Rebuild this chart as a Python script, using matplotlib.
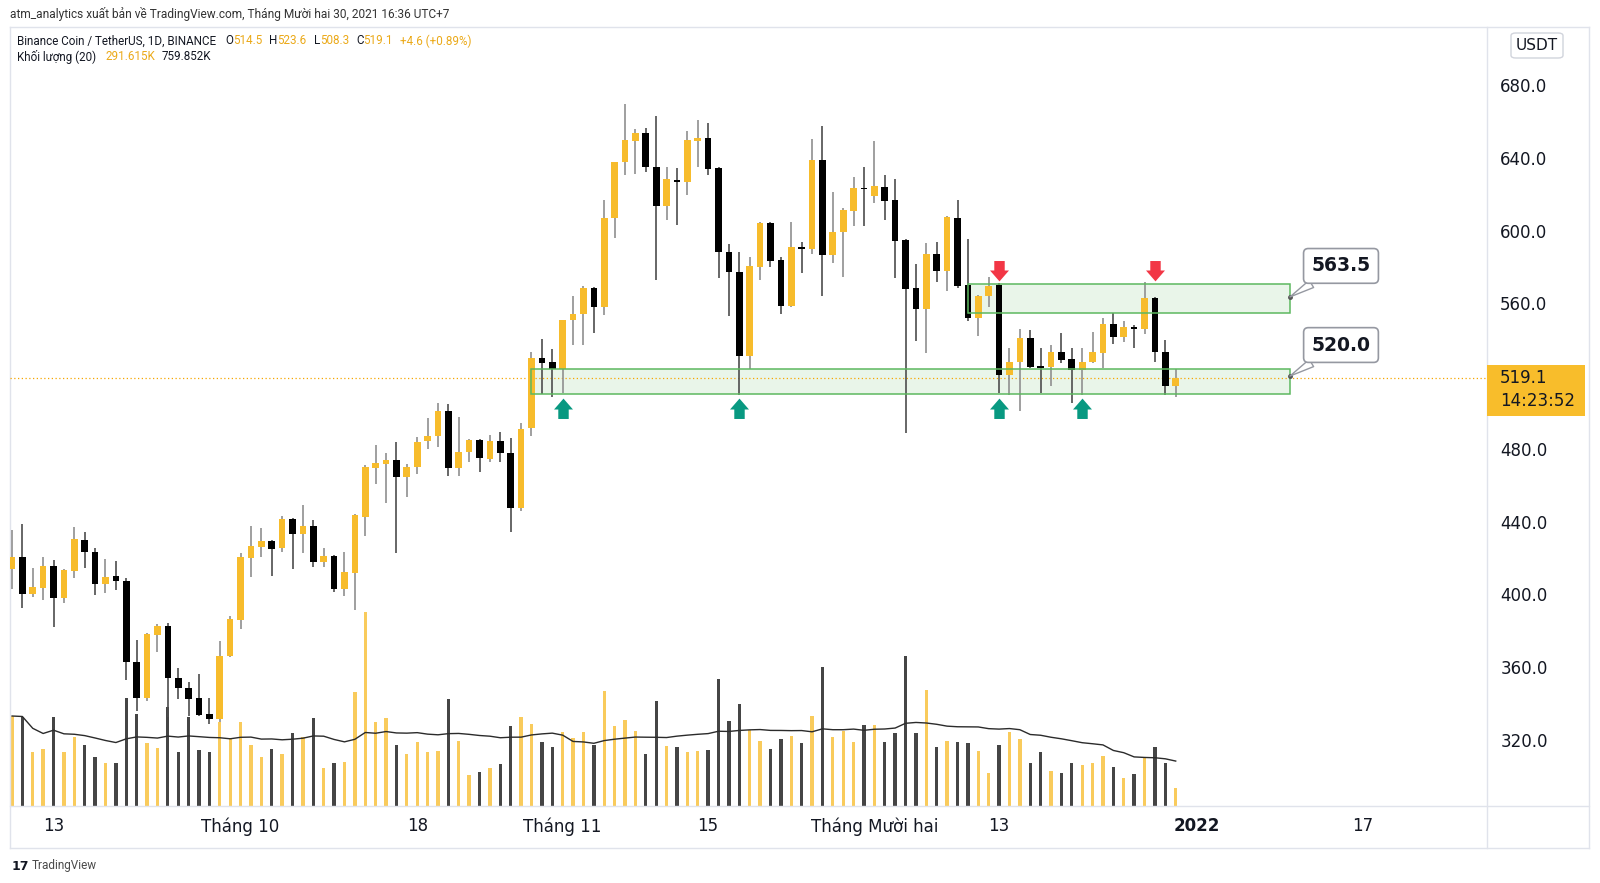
import matplotlib
matplotlib.use("Agg")
import matplotlib.pyplot as plt
import numpy as np
import pandas as pd
from matplotlib.patches import Rectangle, FancyBboxPatch
from matplotlib.lines import Line2D
from matplotlib.path import Path

plt.rcParams['font.family'] = ['DejaVu Sans']

# ---- data (BNB/USDT daily) ----
dates = pd.date_range("2021-09-09", "2021-12-30", freq="D")

opens = [413.9, 420.5, 400.2, 403.5, 415.6, 398.0, 412.8, 429.9, 423.3, 405.7,
         410.1, 407.3, 362.8, 343.0, 377.7, 382.6, 354.0, 348.5, 343.0, 334.2,
         331.5, 366.1, 385.9, 420.0, 426.0, 429.3, 425.5, 441.4, 433.2, 437.6,
         417.8, 421.1, 403.0, 411.7, 442.5, 469.4, 471.6, 473.9, 464.5, 470.0,
         484.3, 487.0, 500.8, 469.4, 478.2, 484.9, 474.4, 484.3, 477.7, 447.5,
         491.4, 529.9, 527.7, 523.9, 550.8, 554.1, 568.4, 558.0, 606.9, 637.7,
         649.2, 653.6, 634.9, 613.5, 627.8, 626.7, 649.2, 650.9, 634.4, 588.2,
         577.2, 531.0, 580.0, 604.1, 583.8, 558.6, 590.9, 589.8, 638.8, 586.5,
         599.2, 611.0, 623.3, 619.0, 624.0, 616.8, 594.8, 568.4, 556.9, 587.1,
         577.8, 606.9, 570.0, 551.9, 564.0, 570.0, 520.6, 527.7, 540.9, 525.5,
         525.0, 533.2, 529.4, 523.3, 527.7, 532.7, 548.6, 541.5, 547.0, 545.9,
         562.9, 533.2, 514.5]
highs = [435.4, 438.7, 414.5, 420.5, 418.9, 413.9, 437.0, 434.3, 425.5, 419.4,
         418.3, 409.0, 374.9, 378.8, 383.7, 384.3, 359.5, 351.8, 356.2, 343.0,
         374.4, 388.1, 422.7, 437.6, 436.5, 429.9, 443.1, 442.0, 449.1, 440.9,
         425.5, 421.6, 423.3, 444.0, 471.1, 482.1, 477.7, 483.7, 471.6, 486.5,
         496.9, 505.2, 504.6, 497.5, 485.4, 485.4, 487.6, 489.3, 486.0, 494.2,
         533.2, 540.4, 534.9, 551.0, 564.0, 569.5, 569.0, 616.8, 637.9, 669.6,
         655.8, 656.4, 662.9, 634.9, 634.4, 654.7, 660.8, 659.1, 634.9, 592.6,
         588.2, 585.5, 604.6, 604.6, 585.5, 604.7, 593.7, 650.3, 657.5, 621.2,
         612.3, 629.4, 634.9, 649.2, 630.5, 628.3, 595.3, 581.6, 593.1, 593.7,
         607.9, 616.8, 595.3, 564.3, 574.5, 571.1, 535.4, 545.9, 545.3, 535.4,
         537.1, 543.7, 535.4, 535.4, 544.2, 551.9, 554.7, 550.3, 548.1, 571.7,
         563.4, 539.8, 523.6]
lows = [403.0, 392.5, 398.6, 396.9, 382.1, 395.3, 409.0, 414.5, 399.6, 400.7,
        402.4, 352.9, 335.9, 341.4, 368.3, 332.6, 342.5, 333.1, 333.2, 328.7,
        329.8, 365.6, 381.0, 409.5, 420.5, 410.1, 423.3, 413.9, 422.7, 415.0,
        415.0, 401.3, 399.1, 391.4, 432.1, 460.7, 450.2, 422.7, 453.5, 466.1,
        479.9, 481.0, 465.0, 465.0, 472.7, 467.2, 472.7, 472.7, 434.5, 445.8,
        487.0, 510.1, 508.5, 510.7, 537.1, 537.1, 543.7, 553.6, 595.9, 630.5,
        631.1, 632.2, 572.8, 605.8, 603.0, 619.5, 634.9, 630.5, 573.9, 553.0,
        509.6, 523.9, 572.8, 580.0, 554.1, 558.0, 576.6, 587.1, 564.0, 582.1,
        574.4, 602.6, 602.6, 615.2, 605.8, 573.9, 488.7, 539.5, 532.7, 571.7,
        567.0, 568.4, 550.3, 542.2, 557.8, 510.7, 509.6, 500.8, 524.5, 510.7,
        514.5, 527.2, 505.2, 509.6, 527.0, 524.4, 537.6, 538.7, 535.4, 543.1,
        527.7, 509.6, 508.3]
closes = [420.5, 400.2, 404.1, 415.6, 398.0, 413.4, 430.4, 423.3, 405.7, 409.5,
          407.3, 362.8, 343.0, 378.2, 382.6, 354.0, 348.5, 342.5, 333.7, 331.5,
          366.1, 386.5, 420.5, 426.6, 429.3, 424.9, 441.4, 433.2, 437.6, 417.8,
          421.1, 403.0, 412.3, 443.6, 470.0, 472.2, 473.9, 464.5, 470.0, 483.7,
          487.0, 500.8, 469.4, 478.2, 484.9, 474.9, 484.3, 477.7, 447.5, 490.9,
          529.9, 527.2, 523.9, 550.8, 554.1, 568.4, 558.0, 606.9, 637.7, 649.8,
          653.6, 634.9, 613.5, 628.3, 626.7, 649.8, 650.9, 633.9, 588.2, 577.2,
          531.0, 580.5, 604.1, 583.3, 558.6, 590.9, 589.8, 638.8, 586.5, 599.2,
          611.3, 623.3, 622.8, 624.5, 616.2, 594.2, 567.8, 556.9, 587.1, 577.8,
          607.4, 569.5, 551.9, 564.0, 569.5, 520.6, 527.7, 540.9, 525.0, 524.4,
          533.2, 528.8, 523.3, 527.7, 533.2, 548.6, 541.5, 547.0, 545.9, 562.9,
          533.2, 514.5, 519.1]
# volume in thousands
volumes_k = [1476, 1460, 886, 935, 1460, 886, 1132, 1000, 804, 705,
             705, 1771, 1509, 1033, 951, 1624, 886, 1460, 918, 886,
             1378, 1115, 1378, 1000, 804, 935, 853, 1197, 1132, 1443,
             623, 705, 722, 1870, 3182, 1378, 1443, 1000, 853, 1050,
             886, 902, 1755, 1066, 508, 558, 623, 689, 1312, 1460,
             1345, 1050, 968, 1214, 1115, 1214, 1000, 1886, 1312, 1410,
             1230, 853, 1722, 984, 968, 886, 902, 918, 2083, 1394,
             1673, 1246, 1066, 935, 1099, 1148, 1033, 1476, 2280, 1132,
             1230, 1050, 1328, 1328, 1050, 1197, 2460, 1197, 1902, 968,
             1066, 1050, 1033, 902, 541, 1000, 1214, 1099, 705, 886,
             574, 541, 705, 672, 705, 820, 640, 459, 525, 787,
             968, 705, 291.615]
vol_ma_shown = 759.852

tick_dates = ["2021-09-13", "2021-10-01", "2021-10-18", "2021-11-01", "2021-11-15",
              "2021-12-01", "2021-12-13", "2022-01-01", "2022-01-17"]
tick_labels = ["13", "Tháng 10", "18", "Tháng 11", "15", "Tháng Mười hai", "13", "2022", "17"]
# 520.0 is hidden behind the last-price label
price_ticks = [320, 360, 400, 440, 480, 560, 600, 640, 680]

# support / resistance boxes: (start date, end date, low, high, callout value)
zone_upper = ("2021-12-10", "2022-01-10", 554.7, 570.6, 563.5)
zone_lower = ("2021-10-29", "2022-01-10", 509.9, 523.7, 520.0)
up_arrow_dates = ["2021-11-01", "2021-11-18", "2021-12-13", "2021-12-21"]
up_arrow_price = 501.9
down_arrow_dates = ["2021-12-13", "2021-12-28"]
down_arrow_price = 578.3

title = "atm_analytics xuất bản về TradingView.com, Tháng Mười hai 30, 2021 16:36 UTC+7"
countdown = "14:23:52"

# ---- styling ----
YELLOW = '#F7BC2C'
BLACK = '#000000'
GOLD_TXT = '#EBA918'
DARK = '#131722'
BORDER = '#E0E3EB'
W, H = 1600, 883


def fx(px):
    return px / W


def fy(py):
    return 1 - py / H


def day(d):
    return (pd.Timestamp(d) - dates[0]).days


fig = plt.figure(figsize=(W / 100, H / 100), dpi=100)
fig.patch.set_facecolor('white')

ax = fig.add_axes([fx(10), fy(806), (1487 - 10) / W, (806 - 27) / H])
ax.set_xlim(-0.19, 141.96)
ax.set_ylim(283.6, 711.9)
ax.set_facecolor('none')
ax.set_zorder(2)

ax2 = ax.twinx()
ax2.set_zorder(1)
ax2.set_ylim(0, 12776)
ax2.set_axis_off()

x = np.arange(len(dates))
o = np.array(opens)
c = np.array(closes)
up = c >= o

# volume + MA(20)
vol_col = np.where(up, '#F9CB5C', '#454545')
ax2.bar(x, volumes_k, width=0.32, color=vol_col, lw=0)
vol_ma = pd.Series(volumes_k).rolling(20, min_periods=1).mean()
ax2.plot(x, vol_ma, color='#2b2b2b', lw=1.0)

# candles
wick_col = np.where(up, '#8f8f8f', '#4d4d4d')
ax.vlines(x, lows, highs, colors=wick_col, lw=1.2, zorder=2)
ax.bar(x, np.maximum(np.abs(c - o), 0.7), bottom=np.minimum(o, c), width=0.64,
       color=np.where(up, YELLOW, BLACK), lw=0, zorder=3)

# zones
for z in (zone_upper, zone_lower):
    x0, x1 = day(z[0]), day(z[1])
    ax.add_patch(Rectangle((x0, z[2]), x1 - x0, z[3] - z[2], facecolor='#4CAF50',
                           alpha=0.12, lw=0, zorder=1))
    ax.add_patch(Rectangle((x0, z[2]), x1 - x0, z[3] - z[2], facecolor='none',
                           edgecolor='#5DB85F', lw=1.1, zorder=4))
    ax.plot(x1, z[4], 'o', ms=2.5, color='#555555', zorder=6)
    ax.annotate(f"{z[4]:.1f}", xy=(x1, z[4]), xytext=(51, 31), textcoords='offset pixels',
                ha='center', va='center', fontsize=13.5, fontweight='bold', color=DARK,
                bbox=dict(boxstyle='round,pad=0.42,rounding_size=0.25', fc='white', ec='#9598A1', lw=1.2),
                arrowprops=dict(arrowstyle='wedge,tail_width=0.45,shrink_factor=0.5', fc='white',
                                ec='#9598A1', lw=1.0, shrinkA=0, shrinkB=0),
                zorder=7)

# current price dotted line
ax.axhline(c[-1], color='#F7A600', lw=0.9, ls=(0, (1, 2)), zorder=1)

# arrows
up_path = Path([(-0.55, -1.0), (0.55, -1.0), (0.55, 0.0), (1.0, 0.0), (0.0, 1.15),
                (-1.0, 0.0), (-0.55, 0.0), (-0.55, -1.0)], closed=True)
down_path = Path([(vx, -vy) for vx, vy in up_path.vertices], closed=True)
ax.plot([day(d) for d in up_arrow_dates], [up_arrow_price] * len(up_arrow_dates),
        ls='none', marker=up_path, ms=15.7, color='#089981', mew=0, zorder=6)
ax.plot([day(d) for d in down_arrow_dates], [down_arrow_price] * len(down_arrow_dates),
        ls='none', marker=down_path, ms=15.7, color='#F23645', mew=0, zorder=6)

# axes ticks
for s in ax.spines.values():
    s.set_visible(False)
ax.yaxis.tick_right()
ax.set_yticks(price_ticks)
ax.set_yticklabels([f"{v:.1f}" for v in price_ticks])
ax.tick_params(axis='y', length=0, pad=9.5, labelsize=12, labelcolor=DARK)
for lbl in ax.get_yticklabels():
    lbl.set_horizontalalignment('left')
ax.set_xticks([day(d) for d in tick_dates])
ax.set_xticklabels(tick_labels)
ax.tick_params(axis='x', length=0, pad=8, labelsize=12, labelcolor=DARK)
for lbl in ax.get_xticklabels():
    if lbl.get_text() == "2022":
        lbl.set_fontweight('bold')

# frame lines
for (x0, y0, x1, y1) in [(10, 27, 1589, 27), (10, 848, 1589, 848), (10, 27, 10, 848),
                         (1589, 27, 1589, 848), (10, 806, 1589, 806), (1487, 27, 1487, 848)]:
    fig.add_artist(Line2D([fx(x0), fx(x1)], [fy(y0), fy(y1)], color=BORDER, lw=1.0))

# last price label on the axis
_, py = ax.transData.transform((0, c[-1]))
py = H - py
fig.add_artist(Rectangle((fx(1487), fy(py + 38)), 98 / W, 51 / H, facecolor='#F8BD2B',
                         edgecolor='none', transform=fig.transFigure, zorder=5))
fig.text(fx(1500), fy(py), f"{c[-1]:.1f}", fontsize=12, color=DARK, va='center', zorder=6)
fig.text(fx(1500), fy(py + 23), countdown, fontsize=12, color=DARK, va='center', zorder=6)

# currency box
fig.add_artist(FancyBboxPatch((fx(1511), fy(58)), 52 / W, 25 / H,
                              boxstyle='round,pad=0,rounding_size=0.003',
                              facecolor='white', edgecolor='#D1D4DC', lw=1.0,
                              transform=fig.transFigure))
fig.text(fx(1537), fy(45.5), "USDT", fontsize=11, color=DARK, ha='center', va='center')

# header texts
renderer = fig.canvas.get_renderer()


def put_segments(x_px, y_px, segments, size):
    for text, color, gap in segments:
        t = fig.text(fx(x_px), fy(y_px), text, color=color, fontsize=size, va='center',
                     family=['Roboto', 'DejaVu Sans'])
        x_px += t.get_window_extent(renderer=renderer).width + gap


put_segments(10, 14, [(title, '#333333', 0)], 8.6)
chg = c[-1] - c[-2]
put_segments(17, 41, [("Binance Coin / TetherUS, 1D, BINANCE", DARK, 9),
                      ("O", DARK, 0), (f"{o[-1]:.1f}", GOLD_TXT, 7),
                      ("H", DARK, 0), (f"{highs[-1]:.1f}", GOLD_TXT, 7),
                      ("L", DARK, 0), (f"{lows[-1]:.1f}", GOLD_TXT, 7),
                      ("C", DARK, 0), (f"{c[-1]:.1f}", GOLD_TXT, 7),
                      (f"{chg:+.1f} ({chg / c[-2] * 100:+.2f}%)", GOLD_TXT, 0)], 8.4)
put_segments(17, 57, [("Khối lượng (20)", DARK, 9),
                      (f"{volumes_k[-1]:.3f}K", GOLD_TXT, 7),
                      (f"{vol_ma_shown:.3f}K", DARK, 0)], 8.4)

# footer logo
fig.text(fx(12), fy(866), "17", fontsize=9, fontweight='bold', color='#131722', va='center')
fig.text(fx(32), fy(866), "TradingView", fontsize=8.5, color='#4A4A4A', va='center',
         family=['Roboto', 'DejaVu Sans'])

fig.savefig("out.png", dpi=100, facecolor='white')
